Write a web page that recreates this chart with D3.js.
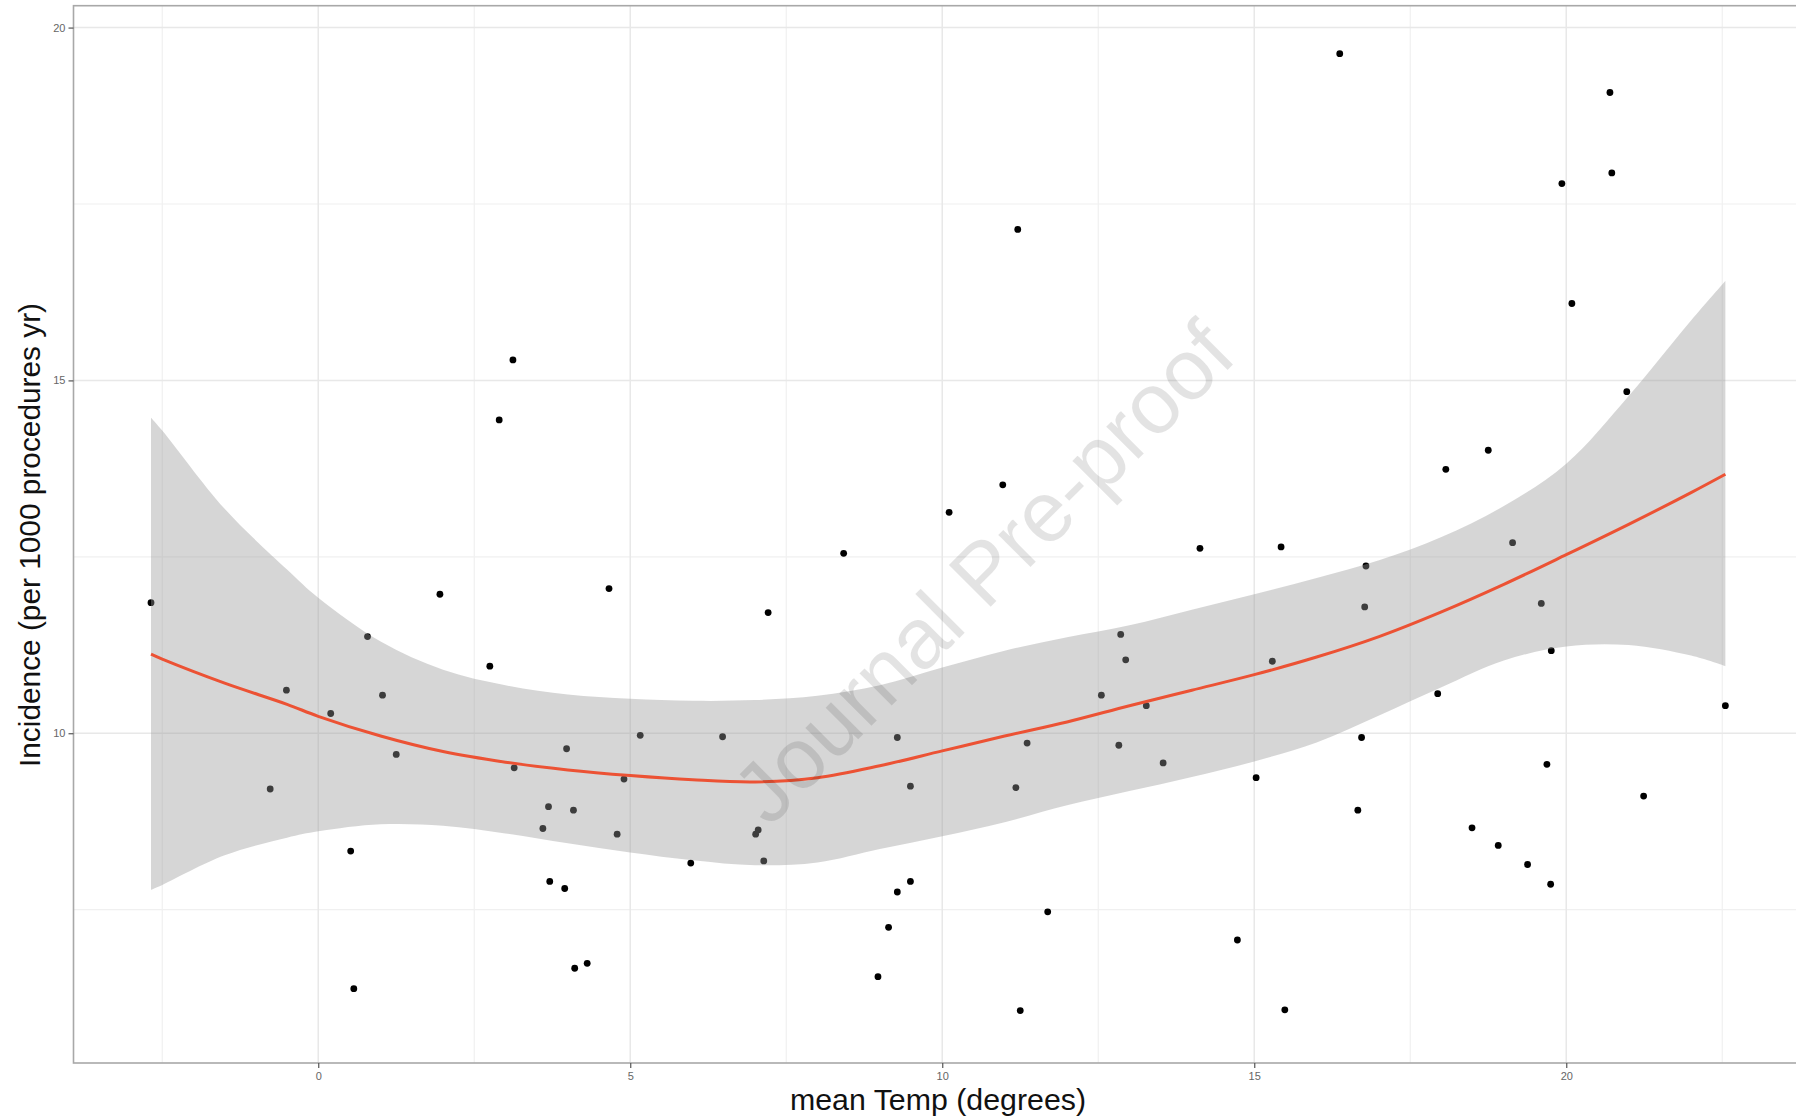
<!DOCTYPE html>
<html>
<head>
<meta charset="utf-8">
<script src="https://cdn.jsdelivr.net/npm/d3@7"></script>
<style>
  html, body { margin: 0; padding: 0; background: #fff; }
  svg { display: block; }
  text { font-family: "Liberation Sans", Arial, Helvetica, sans-serif; }
</style>
</head>
<body>
<svg id="chart" width="1796" height="1120"></svg>
<script>
// ---- data ----
const tempX = [-2.68,-0.77,-0.51,0.20,0.52,0.57,0.79,1.03,1.25,1.95,2.75,2.90,3.12,3.14,3.60,3.69,3.71,3.95,3.98,4.09,4.11,4.31,4.66,4.79,4.90,5.16,5.97,6.48,7.01,7.05,7.14,7.21,8.42,8.97,9.14,9.28,9.28,9.49,9.49,10.11,10.97,11.21,11.18,11.25,11.36,11.69,12.55,12.83,12.86,12.94,13.27,13.54,14.13,14.73,15.03,15.29,15.43,15.49,16.37,16.66,16.72,16.77,16.79,17.94,18.07,18.49,18.75,18.91,19.14,19.38,19.60,19.69,19.75,19.76,19.93,20.09,20.70,20.73,20.97,21.24,22.55];
const incidence = [11.85,9.21,10.61,10.28,8.33,6.38,11.37,10.54,9.70,11.97,10.95,14.44,15.29,9.51,8.65,8.96,7.90,7.80,9.78,8.91,6.67,6.74,12.05,8.57,9.35,9.97,8.16,9.95,8.57,8.63,8.19,11.71,12.55,6.55,7.25,7.75,9.94,7.90,9.25,13.13,13.52,17.14,9.23,6.07,9.86,7.47,10.54,9.83,11.40,11.04,10.39,9.58,12.62,7.07,9.37,11.02,12.64,6.08,19.63,8.91,9.94,11.79,12.37,10.56,13.74,8.66,14.01,8.41,12.70,8.14,11.84,9.56,7.86,11.17,17.79,16.09,19.08,17.94,14.84,9.11,10.39];

const smoothX     = [-2.68,-2.5,-1.5,-0.5,0,1,2,3,4,5,6,7,8,9,10,11,12,13,14,15,16,17,18,19,20,21,22,22.55];
const smoothFit   = [11.12,11.05,10.71,10.41,10.24,9.96,9.74,9.59,9.48,9.40,9.34,9.31,9.37,9.54,9.75,9.96,10.16,10.39,10.61,10.83,11.08,11.37,11.72,12.11,12.53,12.96,13.41,13.67];
const smoothUpper = [14.47,14.29,13.18,12.32,11.92,11.30,10.90,10.68,10.55,10.49,10.46,10.47,10.53,10.68,10.93,11.17,11.36,11.53,11.75,11.97,12.20,12.45,12.78,13.22,13.82,14.78,15.85,16.41];
const smoothLower = [7.78,7.85,8.27,8.52,8.61,8.71,8.69,8.58,8.44,8.31,8.20,8.13,8.17,8.36,8.54,8.74,8.98,9.18,9.38,9.60,9.87,10.25,10.65,11.03,11.23,11.25,11.10,10.95];

const xMajor = [0,5,10,15,20];
const xMinor = [-2.5,2.5,7.5,12.5,17.5,22.5];
const yMajor = [10,15,20];
const yMinor = [7.5,12.5,17.5];

const xTitle = "mean Temp (degrees)";
const yTitle = "Incidence (per 1000 procedures yr)";
const watermark = "Journal Pre-proof";

// ---- layout ----
const svg = d3.select("#chart");
const P = {left: 73.5, right: 1804, top: 5.7, bottom: 1063};
const x = d3.scaleLinear().domain([-3.922, 23.81]).range([P.left, P.right]);
const y = d3.scaleLinear().domain([5.327, 20.31]).range([P.bottom, P.top]);

svg.append("defs").append("clipPath").attr("id","panel")
  .append("rect").attr("x",P.left).attr("y",P.top)
  .attr("width",P.right-P.left).attr("height",P.bottom-P.top);

const grid = svg.append("g").attr("clip-path","url(#panel)");
grid.selectAll(".xmin").data(xMinor).join("line")
  .attr("x1",d=>x(d)).attr("x2",d=>x(d)).attr("y1",P.top).attr("y2",P.bottom)
  .attr("stroke","#f0f0f0").attr("stroke-width",1.2);
grid.selectAll(".ymin").data(yMinor).join("line")
  .attr("y1",d=>y(d)).attr("y2",d=>y(d)).attr("x1",P.left).attr("x2",P.right)
  .attr("stroke","#f0f0f0").attr("stroke-width",1.2);
grid.selectAll(".xmaj").data(xMajor).join("line")
  .attr("x1",d=>x(d)).attr("x2",d=>x(d)).attr("y1",P.top).attr("y2",P.bottom)
  .attr("stroke","#e8e8e8").attr("stroke-width",1.5);
grid.selectAll(".ymaj").data(yMajor).join("line")
  .attr("y1",d=>y(d)).attr("y2",d=>y(d)).attr("x1",P.left).attr("x2",P.right)
  .attr("stroke","#e8e8e8").attr("stroke-width",1.5);

const plot = svg.append("g").attr("clip-path","url(#panel)");
plot.selectAll("circle").data(tempX.map((t,i)=>[t,incidence[i]])).join("circle")
  .attr("cx",d=>x(d[0])).attr("cy",d=>y(d[1])).attr("r",3.4).attr("fill","#000");

const sm = smoothX.map((t,i)=>({x:t, f:smoothFit[i], lo:smoothLower[i], hi:smoothUpper[i]}));
const curve = d3.curveCatmullRom.alpha(0.5);
plot.append("path").datum(sm)
  .attr("d", d3.area().x(d=>x(d.x)).y0(d=>y(d.lo)).y1(d=>y(d.hi)).curve(curve))
  .attr("fill","#999999").attr("fill-opacity",0.4);
plot.append("path").datum(sm)
  .attr("d", d3.line().x(d=>x(d.x)).y(d=>y(d.f)).curve(curve))
  .attr("fill","none").attr("stroke","#ec5234").attr("stroke-width",3);

svg.append("rect").attr("x",P.left).attr("y",P.top)
  .attr("width",P.right-P.left).attr("height",P.bottom-P.top)
  .attr("fill","none").attr("stroke","#a8a8a8").attr("stroke-width",1.6);

const xAxis = svg.append("g").attr("transform",`translate(0,${P.bottom})`)
  .call(d3.axisBottom(x).tickValues(xMajor).tickSize(5).tickPadding(4).tickFormat(d3.format("d")));
const yAxis = svg.append("g").attr("transform",`translate(${P.left},0)`)
  .call(d3.axisLeft(y).tickValues(yMajor).tickSize(5).tickPadding(3).tickFormat(d3.format("d")));
[xAxis,yAxis].forEach(a=>{
  a.select(".domain").remove();
  a.selectAll(".tick line").attr("stroke","#555").attr("stroke-width",1.2);
  a.selectAll(".tick text").attr("fill","#666").attr("font-size",11)
   .attr("font-family","'Liberation Sans', Arial, sans-serif");
});

svg.append("text").attr("x",938).attr("y",1110).attr("text-anchor","middle")
  .attr("font-size",29).attr("fill","#111").attr("textLength",296)
  .attr("lengthAdjust","spacingAndGlyphs").text(xTitle);
svg.append("text").attr("transform","translate(40,535) rotate(-90)")
  .attr("text-anchor","middle").attr("font-size",29).attr("fill","#111")
  .attr("textLength",464).attr("lengthAdjust","spacingAndGlyphs").text(yTitle);

svg.append("text").attr("transform","translate(983,572) rotate(-45)")
  .attr("text-anchor","middle").attr("dominant-baseline","central")
  .attr("font-size",86).attr("fill","#000").attr("fill-opacity",0.11)
  .text(watermark);
</script>
</body>
</html>
